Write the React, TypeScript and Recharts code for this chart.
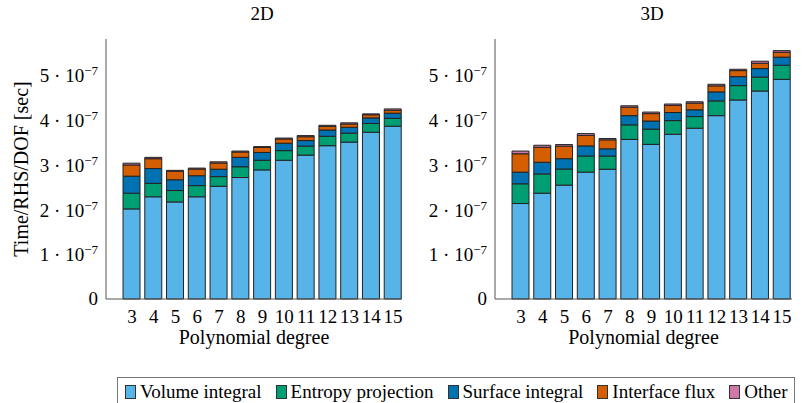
import React from 'react';
import { BarChart, Bar, XAxis, YAxis } from 'recharts';

// values are in units of 1e-7 sec
const degrees = ['3', '4', '5', '6', '7', '8', '9', '10', '11', '12', '13', '14', '15'];

const volume2D = [2.01, 2.28, 2.165, 2.28, 2.515, 2.71, 2.88, 3.095, 3.21, 3.42, 3.5, 3.72, 3.855];
const entropy2D = [0.35, 0.3, 0.255, 0.25, 0.215, 0.24, 0.215, 0.215, 0.2, 0.21, 0.2, 0.195, 0.175];
const surface2D = [0.38, 0.33, 0.24, 0.22, 0.165, 0.21, 0.175, 0.165, 0.125, 0.14, 0.13, 0.125, 0.115];
const interface2D = [0.25, 0.22, 0.19, 0.15, 0.14, 0.12, 0.11, 0.095, 0.085, 0.08, 0.075, 0.07, 0.065];
const other2D = [0.04, 0.03, 0.02, 0.02, 0.025, 0.02, 0.02, 0.02, 0.025, 0.025, 0.025, 0.02, 0.03];

const volume3D = [2.13, 2.36, 2.54, 2.83, 2.895, 3.56, 3.45, 3.675, 3.81, 4.09, 4.44, 4.64, 4.9];
const entropy3D = [0.44, 0.43, 0.36, 0.36, 0.295, 0.325, 0.34, 0.305, 0.26, 0.33, 0.32, 0.31, 0.315];
const surface3D = [0.26, 0.26, 0.23, 0.225, 0.16, 0.205, 0.18, 0.18, 0.15, 0.2, 0.2, 0.19, 0.18];
const interface3D = [0.41, 0.335, 0.28, 0.235, 0.2, 0.19, 0.165, 0.16, 0.15, 0.135, 0.135, 0.12, 0.11];
const other3D = [0.06, 0.045, 0.035, 0.04, 0.03, 0.03, 0.035, 0.03, 0.03, 0.035, 0.03, 0.045, 0.035];

const yTicks = [0, 1, 2, 3, 4, 5];

const series = [
    { key: 'volume', name: 'Volume integral', color: '#56B4E9' },
    { key: 'entropy', name: 'Entropy projection', color: '#009E73' },
    { key: 'surface', name: 'Surface integral', color: '#0072B2' },
    { key: 'iface', name: 'Interface flux', color: '#D55E00' },
    { key: 'other', name: 'Other', color: '#CC79A7' },
];

const build = (v: number[], e: number[], s: number[], f: number[], o: number[]) =>
    degrees.map((p, i) => ({ p, volume: v[i], entropy: e[i], surface: s[i], iface: f[i], other: o[i] }));

const data2D = build(volume2D, entropy2D, surface2D, interface2D, other2D);
const data3D = build(volume3D, entropy3D, surface3D, interface3D, other3D);

const FONT = '"Liberation Serif", serif';
const FS = 19;
const FRAME = '#555';

const YTick = (props: any) => {
    const { x, y, payload } = props;
    if (payload.value === 0) {
        return (
            <text x={x} y={y} dy="0.3em" textAnchor="end" fontFamily={FONT} fontSize={FS} fill="#000">
                0
            </text>
        );
    }
    return (
        <text x={x} y={y} dy="0.38em" textAnchor="end" fontFamily={FONT} fontSize={FS} fill="#000">
            <tspan>{payload.value} · 10</tspan>
            <tspan dy={-7} fontSize={13}>−7</tspan>
        </text>
    );
};

type PanelProps = {
    data: any[];
    width: number;
    yWidth: number;
    pad: { left: number; right: number };
    showYLabel?: boolean;
};

const Panel = ({ data, width, yWidth, pad, showYLabel }: PanelProps) => (
    <BarChart width={width} height={360} data={data} margin={{ top: 39, right: 8, left: 0, bottom: 11 }} barSize={17}>
        <XAxis
            dataKey="p"
            height={50}
            padding={pad}
            stroke={FRAME}
            tickLine={false}
            tickSize={0}
            tickMargin={11}
            interval={0}
            tick={{ fontFamily: FONT, fontSize: FS, fill: '#000' }}
            label={{ value: 'Polynomial degree', position: 'insideBottom', offset: 5, fontFamily: FONT, fontSize: 20, fill: '#000' }}
        />
        <XAxis
            xAxisId="top"
            orientation="top"
            dataKey="p"
            height={0}
            padding={pad}
            mirror
            tick={false}
            tickSize={5}
            interval={0}
            stroke={FRAME}
            tickLine={{ stroke: '#aaa' }}
        />
        <YAxis
            width={yWidth}
            domain={[0, 5.8]}
            ticks={yTicks}
            stroke={FRAME}
            tickLine={false}
            tickSize={0}
            tickMargin={8}
            tick={<YTick />}
            label={
                showYLabel
                    ? {
                          content: () => (
                              <text
                                  x={21}
                                  y={169}
                                  transform="rotate(-90 21 169)"
                                  textAnchor="middle"
                                  dominantBaseline="central"
                                  fontFamily={FONT}
                                  fontSize={20}
                                  fill="#000"
                              >
                                  Time/RHS/DOF [sec]
                              </text>
                          ),
                      }
                    : undefined
            }
        />
        <YAxis
            yAxisId="inner"
            mirror
            width={0}
            domain={[0, 5.8]}
            ticks={yTicks}
            tick={false}
            tickSize={5}
            axisLine={false}
            tickLine={{ stroke: '#aaa' }}
        />
        <YAxis yAxisId="right" orientation="right" width={0} domain={[0, 5.8]} tick={false} tickLine={false} stroke={FRAME} />
        {series.map((s) => (
            <Bar
                key={s.key}
                dataKey={s.key}
                name={s.name}
                stackId="a"
                fill={s.color}
                stroke="#222"
                strokeWidth={1}
                isAnimationActive={false}
            />
        ))}
    </BarChart>
);

const Legend = () => (
    <div
        style={{
            position: 'absolute',
            left: 117,
            top: 377,
            width: 678,
            height: 30,
            border: '1px solid #777',
            boxSizing: 'border-box',
            display: 'flex',
            alignItems: 'center',
            paddingLeft: 7,
            fontFamily: FONT,
            fontSize: FS,
            color: '#000',
            whiteSpace: 'nowrap',
        }}
    >
        {series.map((s) => (
            <span key={s.key} style={{ display: 'flex', alignItems: 'center', marginRight: 14 }}>
                <span
                    style={{
                        display: 'inline-block',
                        width: 9,
                        height: 12,
                        background: s.color,
                        border: '1px solid #333',
                        marginRight: 4,
                    }}
                />
                {s.name}
            </span>
        ))}
    </div>
);

const titleStyle: React.CSSProperties = {
    position: 'absolute',
    top: 3,
    width: 60,
    textAlign: 'center',
    fontFamily: FONT,
    fontSize: FS,
    color: '#000',
};

export default function App() {
    return (
        <div style={{ position: 'absolute', left: 0, top: 0, width: 806, height: 403, overflow: 'hidden', background: '#fff' }}>
            <div style={{ ...titleStyle, left: 262 - 30 }}>2D</div>
            <div style={{ ...titleStyle, left: 652 - 30 }}>3D</div>
            <div style={{ position: 'absolute', left: 0, top: 0 }}>
                <Panel data={data2D} width={410} yWidth={106} pad={{ left: 15, right: -2 }} showYLabel />
            </div>
            <div style={{ position: 'absolute', left: 400, top: 0 }}>
                <Panel data={data3D} width={400} yWidth={95} pad={{ left: 15, right: -1 }} />
            </div>
            <Legend />
        </div>
    );
}
